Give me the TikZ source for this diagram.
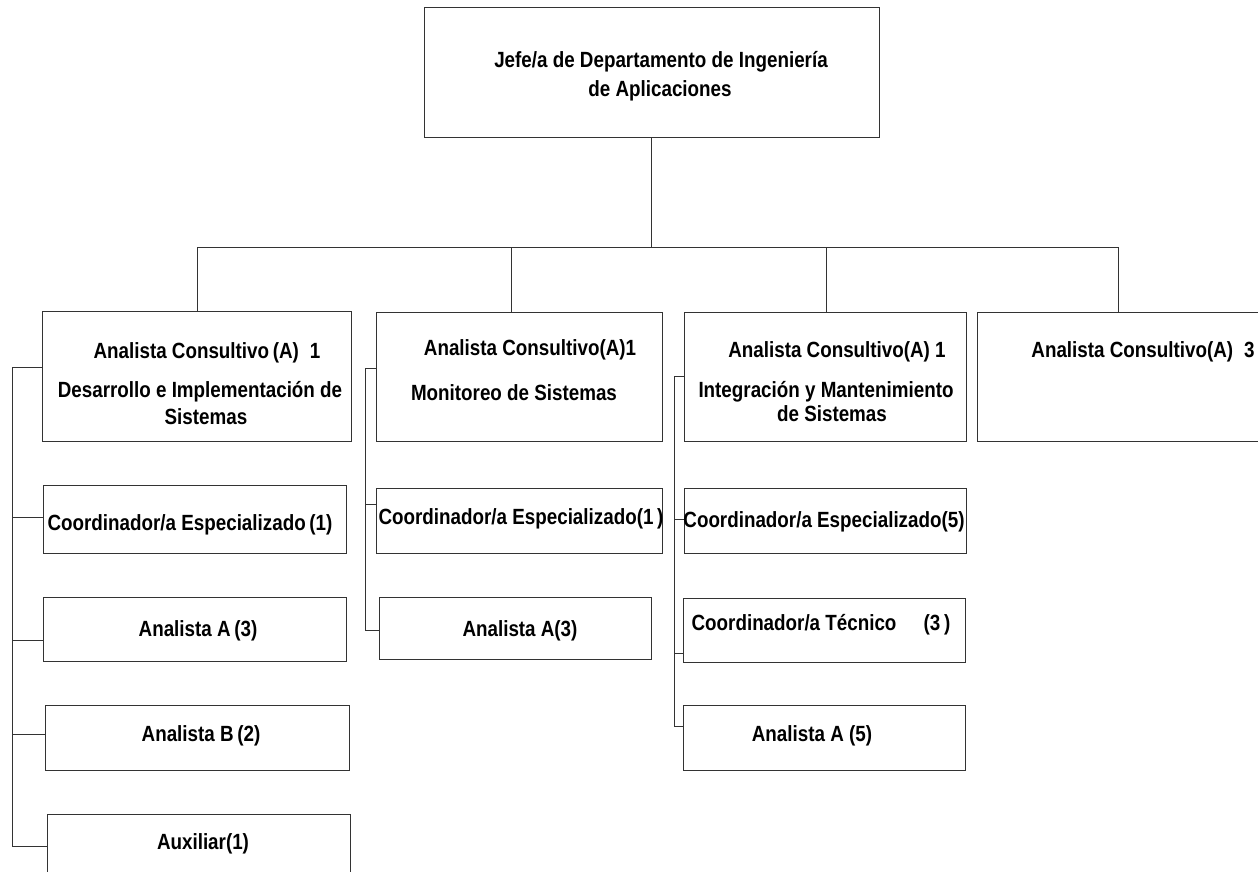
\documentclass[tikz,border=0pt]{standalone}
\usepackage{fontspec}
\setmainfont{Liberation Sans}[FakeStretch=0.855]
\usetikzlibrary{fit}
\begin{document}
\begin{tikzpicture}[x=1pt,y=-1pt,
  box/.style={draw=black!80,line width=1pt,inner sep=0pt,outer sep=0pt},
  lbl/.style={anchor=base,inner sep=0pt,font=\fontsize{22}{26}\selectfont\bfseries},
  conn/.style={draw=black!80,line width=1pt}]
\useasboundingbox (0,0) rectangle (1258,872);
% boxes
\node[box,fit={(424,8) (879,138)}] (top) {};
\node[box,fit={(42,311) (351,441)}] (b1) {};
\node[box,fit={(376,312) (662,441)}] (b2) {};
\node[box,fit={(684,312) (966,441)}] (b3) {};
\node[box,fit={(977,312) (1264,441)}] (b4) {};
\node[box,fit={(43,485) (346,553)}] (c1) {};
\node[box,fit={(43,597) (346,661)}] (a1) {};
\node[box,fit={(45,705) (349,770)}] (bb1) {};
\node[box,fit={(47,814) (350,880)}] (aux) {};
\node[box,fit={(376,488) (662,553)}] (c2) {};
\node[box,fit={(379,597) (651,659)}] (a2) {};
\node[box,fit={(684,488) (966,553)}] (c3) {};
\node[box,fit={(683,598) (965,662)}] (t3) {};
\node[box,fit={(683,705) (965,770)}] (a3) {};
% labels
\node[lbl] (tl1) at (661,68) {Jefe/a de Departamento de Ingeniería};
\node[lbl] (tl2) at (660,97) {de Aplicaciones};
\node[lbl] (b1l1) at (207,358) {Analista Consultivo\,(A)\enspace 1};
\node[lbl] (b1l2) at (200,397) {Desarrollo e Implementación de};
\node[lbl] (b1l3) at (206,424) {Sistemas};
\node[lbl] (b2l1) at (530,355) {Analista Consultivo(A)1};
\node[lbl] (b2l2) at (514,400) {Monitoreo de Sistemas};
\node[lbl] (b3l1) at (837,357) {Analista Consultivo(A) 1};
\node[lbl] (b3l2) at (826,397) {Integración y Mantenimiento};
\node[lbl] (b3l3) at (832,421) {de Sistemas};
\node[lbl] (b4l1) at (1143,357) {Analista Consultivo(A)\enspace 3};
\node[lbl] (c1l) at (190,530) {Coordinador/a Especializado\,(1)};
\node[lbl] (a1l) at (198,636) {Analista A\,(3)};
\node[lbl] (bb1l) at (201,741) {Analista B\,(2)};
\node[lbl] (auxl) at (203,849) {Auxiliar(1)};
\node[lbl] (c2l) at (521,524) {Coordinador/a Especializado(1\,)};
\node[lbl] (a2l) at (520,636) {Analista A(3)};
\node[lbl] (c3l) at (824,527) {Coordinador/a Especializado(5)};
\node[lbl] (t3l) at (821,630) {Coordinador/a Técnico\quad\ (3\,)};
\node[lbl] (a3l) at (812,741) {Analista A (5)};
% top connectors
\coordinate (busL) at (197,247);
\coordinate (busR) at (1118,247);
\coordinate (bus2) at (511,247);
\coordinate (bus3) at (826,247);
\draw[conn] (top.south) -- (top.south |- busL);
\draw[conn] (b1.north -| busL) -- (busL) -- (busR) -- (busR |- b4.north);
\draw[conn] (bus2) -- (bus2 |- b2.north);
\draw[conn] (bus3) -- (bus3 |- b3.north);
% side bus 1
\coordinate (s1a) at (12,367);
\coordinate (s1b) at (12,517);
\coordinate (s1c) at (12,640);
\coordinate (s1d) at (12,734);
\coordinate (s1e) at (12,846);
\draw[conn] (s1a -| b1.west) -- (s1a) -- (s1e) -- (s1e -| aux.west);
\draw[conn] (s1b) -- (s1b -| c1.west);
\draw[conn] (s1c) -- (s1c -| a1.west);
\draw[conn] (s1d) -- (s1d -| bb1.west);
% side bus 2
\coordinate (s2a) at (365,368);
\coordinate (s2b) at (365,504);
\coordinate (s2c) at (365,630);
\draw[conn] (s2a -| b2.west) -- (s2a) -- (s2c) -- (s2c -| a2.west);
\draw[conn] (s2b) -- (s2b -| c2.west);
% side bus 3
\coordinate (s3a) at (674,376);
\coordinate (s3b) at (674,519);
\coordinate (s3c) at (674,653);
\coordinate (s3d) at (674,726);
\draw[conn] (s3a -| b3.west) -- (s3a) -- (s3d) -- (s3d -| a3.west);
\draw[conn] (s3b) -- (s3b -| c3.west);
\draw[conn] (s3c) -- (s3c -| t3.west);
\end{tikzpicture}
\end{document}
